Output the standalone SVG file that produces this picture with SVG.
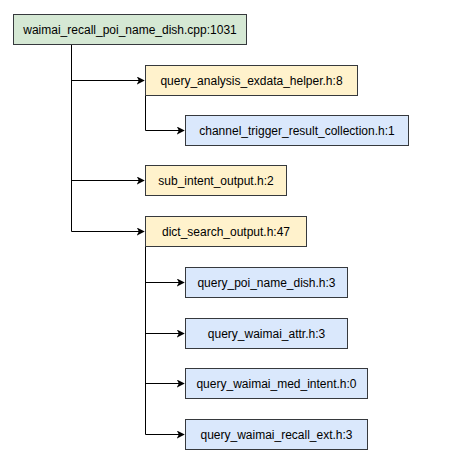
<svg xmlns="http://www.w3.org/2000/svg" width="450" height="467" viewBox="0 0 450 467">
<defs>
<style>
.g rect{fill:#d5e8d4}
.y rect{fill:#fff2cc}
.b rect{fill:#dae8fc}
.n rect{stroke:#36393d;stroke-width:1}
.n text{font-family:"Liberation Sans",Arial,Helvetica,sans-serif;font-size:12px;fill:#000;text-anchor:middle;dominant-baseline:central}
.e path{fill:none;stroke:#000;stroke-width:1}
</style>
<marker id="a" viewBox="0 0 10 10" refX="9" refY="5" markerWidth="8" markerHeight="8" markerUnits="userSpaceOnUse" orient="auto">
<path d="M0,0 L10,5 L0,10 L2.5,5 Z" fill="#000"/>
</marker>
</defs>
<rect width="450" height="467" fill="#fff"/>
<g class="e">
<path d="M71.5,45 V231.5 H144" marker-end="url(#a)"/>
<path d="M71.5,80.5 H144" marker-end="url(#a)"/>
<path d="M71.5,180.5 H144" marker-end="url(#a)"/>
<path d="M145.5,95.5 V130.5 H184" marker-end="url(#a)"/>
<path d="M145.5,246.5 V434.5 H184" marker-end="url(#a)"/>
<path d="M145.5,282.5 H184" marker-end="url(#a)"/>
<path d="M145.5,333.5 H184" marker-end="url(#a)"/>
<path d="M145.5,383.5 H184" marker-end="url(#a)"/>
</g>
<g id="root" class="n g"><rect x="13.5" y="14.5" width="233" height="30"/><text x="130" y="29.5">waimai_recall_poi_name_dish.cpp:1031</text></g>
<g id="qaeh" class="n y"><rect x="145.5" y="65.5" width="212" height="30"/><text x="251.5" y="80.5">query_analysis_exdata_helper.h:8</text></g>
<g id="ctrc" class="n b"><rect x="185.5" y="115.5" width="223" height="30"/><text x="297" y="130.5">channel_trigger_result_collection.h:1</text></g>
<g id="sio" class="n y"><rect x="145.5" y="165.5" width="141" height="30"/><text x="216" y="180.5">sub_intent_output.h:2</text></g>
<g id="dso" class="n y"><rect x="145.5" y="216.5" width="161" height="30"/><text x="226" y="231.5">dict_search_output.h:47</text></g>
<g id="qpnd" class="n b"><rect x="185.5" y="267.5" width="162" height="30"/><text x="266.5" y="282.5">query_poi_name_dish.h:3</text></g>
<g id="qwa" class="n b"><rect x="185.5" y="318.5" width="162" height="30"/><text x="266.5" y="333.5">query_waimai_attr.h:3</text></g>
<g id="qwmi" class="n b"><rect x="185.5" y="368.5" width="182" height="30"/><text x="276.5" y="383.5">query_waimai_med_intent.h:0</text></g>
<g id="qwre" class="n b"><rect x="185.5" y="419.5" width="182" height="30"/><text x="276.5" y="434.5">query_waimai_recall_ext.h:3</text></g>
</svg>
